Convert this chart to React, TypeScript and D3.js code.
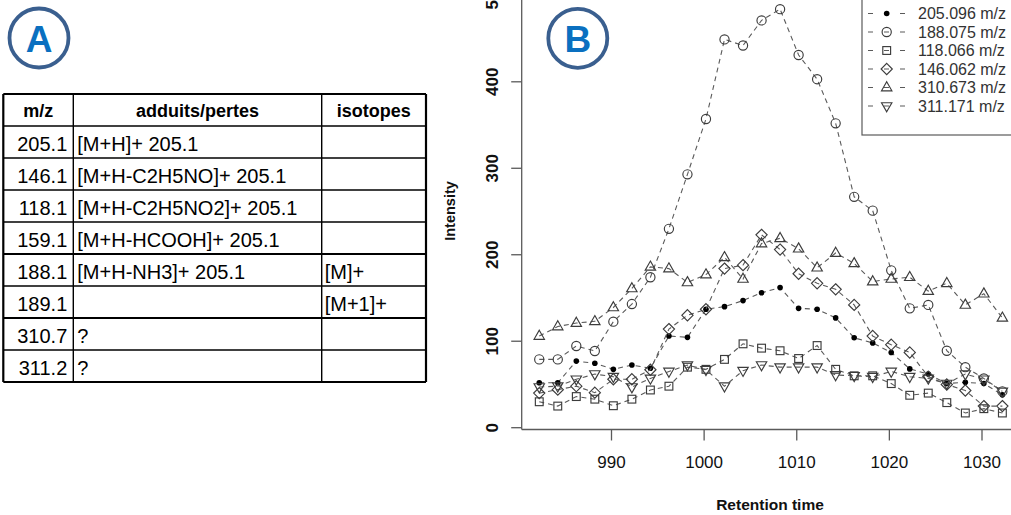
import React from "react";
import * as d3 from "d3";

// ---------- Data ----------
const times = [982.2, 984.2, 986.2, 988.2, 990.2, 992.2, 994.2, 996.2, 998.2, 1000.2, 1002.2, 1004.2, 1006.2, 1008.2, 1010.2, 1012.2, 1014.2, 1016.2, 1018.2, 1020.2, 1022.2, 1024.2, 1026.2, 1028.2, 1030.2, 1032.2];

const mz205 = [52, 52, 77, 74.5, 67.5, 72.5, 68.7, 106, 104.5, 137, 140, 147, 156, 162, 138, 137, 127, 104, 98, 87, 68, 62, 51, 52.5, 51, 38];
const mz188 = [79, 79, 94.5, 88.7, 122.6, 143, 174, 230, 293, 357, 449, 442, 471, 484, 431, 403, 352, 267, 251, 182, 138, 142, 89, 70, 57, 42];
const mz118 = [30, 25, 36, 33, 25.4, 33, 43.6, 48, 70, 67.5, 79, 97, 92, 89, 80, 95, 67.5, 60, 60, 51, 37.5, 40, 29, 17, 22, 17];
const mz146 = [40, 44, 48, 40.5, 56, 56, 67, 114, 130, 137, 184, 188, 223, 206, 178, 167, 160, 142, 106, 96, 87, 59, 50, 43, 25, 25];
const mz310 = [106, 117, 121, 123, 139, 161, 186, 184, 168, 177, 197, 172, 213, 219, 207, 185, 202, 190, 169, 172, 174, 158, 167, 142, 155, 127];
const mz311 = [47, 48, 56, 62, 59, 47, 57, 65, 72.5, 67, 48, 66, 72.5, 70, 70, 70, 61, 60, 59, 65, 59, 57, 51, 62, 56, 42];

const seriesNames = ["205.096 m/z", "188.075 m/z", "118.066 m/z", "146.062 m/z", "310.673 m/z", "311.171 m/z"];
const seriesShapes = ["dot", "circle", "square", "diamond", "triUp", "triDown"];
const seriesValues = [mz205, mz188, mz118, mz146, mz310, mz311];

const xTicks = [990, 1000, 1010, 1020, 1030];
const yTicks = [0, 100, 200, 300, 400, 500];

const tableHeader = ["m/z", "adduits/pertes", "isotopes"];
const tableMz = ["205.1", "146.1", "118.1", "159.1", "188.1", "189.1", "310.7", "311.2"];
const tableAdducts = ["[M+H]+ 205.1", "[M+H-C2H5NO]+ 205.1", "[M+H-C2H5NO2]+ 205.1", "[M+H-HCOOH]+ 205.1", "[M+H-NH3]+ 205.1", "", "?", "?"];
const tableIsotopes = ["", "", "", "", "[M]+", "[M+1]+", "", ""];

// ---------- Layout ----------
const W = 1011;
const H = 515;
const FONT = "'Liberation Sans', Arial, Helvetica, sans-serif";

const x = d3.scaleLinear().domain([990, 1030]).range([611.5, 982]);
const y = d3.scaleLinear().domain([0, 400]).range([427.7, 81.8]);

const axisX = 521.7;
const axisY = 429.5;
const LINE = "#5a5a5a";
const SYM = "#3c3c3c";

function Symbol({ shape, cx, cy }: { shape: string; cx: number; cy: number }) {
  const common = { fill: "none", stroke: SYM, strokeWidth: 1.15 };
  switch (shape) {
    case "dot":
      return <circle cx={cx} cy={cy} r={2.8} fill="#000" />;
    case "circle":
      return <circle cx={cx} cy={cy} r={4.6} {...common} />;
    case "square":
      return <rect x={cx - 3.9} y={cy - 3.9} width={7.8} height={7.8} {...common} />;
    case "diamond":
      return <path d={`M${cx},${cy - 5.6}L${cx + 5.6},${cy}L${cx},${cy + 5.6}L${cx - 5.6},${cy}Z`} {...common} />;
    case "triUp":
      return <path d={`M${cx},${cy - 5.8}L${cx + 5.2},${cy + 3.3}L${cx - 5.2},${cy + 3.3}Z`} {...common} />;
    case "triDown":
      return <path d={`M${cx},${cy + 5.8}L${cx + 5.2},${cy - 3.3}L${cx - 5.2},${cy - 3.3}Z`} {...common} />;
    default:
      return null;
  }
}

function Badge({ cx, cy, letter }: { cx: number; cy: number; letter: string }) {
  return (
    <g>
      <circle cx={cx} cy={cy} r={29.5} fill="#fff" stroke="#3a5f8f" strokeWidth={3.8} />
      <text x={cx} y={cy + 13.5} textAnchor="middle" fontFamily={FONT} fontWeight="bold" fontSize={37} fill="#0a70c0">
        {letter}
      </text>
    </g>
  );
}

export default function App() {
  const line = d3
    .line<number>()
    .x((_, i) => x(times[i]))
    .y((v) => y(v));

  // table geometry
  const colX = [3.3, 73.3, 321.7, 426];
  const rowTop = 94;
  const rowH = 32;
  const nRows = tableMz.length + 1;
  const rowYs = d3.range(nRows + 1).map((k) => rowTop + k * rowH);

  const legendY0 = 13.5;
  const legendStep = 18.5;

  return (
    <svg
      width={W}
      height={H}
      viewBox={`0 0 ${W} ${H}`}
      style={{ position: "absolute", left: 0, top: 0, background: "#fff" }}
    >
      <rect x={0} y={0} width={W} height={H} fill="#fff" />

      {/* ---------- Panel A: table ---------- */}
      <Badge cx={39} cy={38} letter="A" />
      <g>
        {rowYs.map((ry, k) => (
          <line
            key={"r" + k}
            x1={colX[0]}
            x2={colX[3]}
            y1={ry}
            y2={ry}
            stroke="#000"
            strokeWidth={k === 0 || k === nRows || k === 5 || k === 7 ? 2.2 : 1.4}
          />
        ))}
        {colX.map((cx, k) => (
          <line
            key={"c" + k}
            x1={cx}
            x2={cx}
            y1={rowTop}
            y2={rowTop + nRows * rowH}
            stroke="#000"
            strokeWidth={k === 0 || k === 3 ? 2.2 : 1.4}
          />
        ))}
        {tableHeader.map((h, k) => (
          <text
            key={"h" + k}
            x={(colX[k] + colX[k + 1]) / 2}
            y={rowTop + rowH / 2 + 1}
            dominantBaseline="central"
            textAnchor="middle"
            fontFamily={FONT}
            fontWeight="bold"
            fontSize={18}
            fill="#000"
          >
            {h}
          </text>
        ))}
        {tableMz.map((m, r) => {
          const cy = rowTop + (r + 1) * rowH + rowH / 2 + 1.5;
          return (
            <g key={"row" + r}>
              <text x={colX[1] - 6} y={cy} dominantBaseline="central" textAnchor="end" fontFamily={FONT} fontSize={20} fill="#000">
                {m}
              </text>
              <text x={colX[1] + 4} y={cy} dominantBaseline="central" fontFamily={FONT} fontSize={20} fill="#000">
                {tableAdducts[r]}
              </text>
              <text x={colX[2] + 3} y={cy} dominantBaseline="central" fontFamily={FONT} fontSize={20} fill="#000">
                {tableIsotopes[r]}
              </text>
            </g>
          );
        })}
      </g>

      {/* ---------- Panel B: chart ---------- */}
      {seriesValues.map((vals, s) => (
        <g key={"s" + s}>
          <path d={line(vals) || ""} fill="none" stroke={LINE} strokeWidth={1.1} strokeDasharray="5,4" />
          {vals.map((v, i) => (
            <Symbol key={i} shape={seriesShapes[s]} cx={x(times[i])} cy={y(v)} />
          ))}
        </g>
      ))}

      {/* axes */}
      <line x1={axisX} x2={axisX} y1={0} y2={axisY} stroke={LINE} strokeWidth={1.3} />
      <line x1={axisX} x2={W} y1={axisY} y2={axisY} stroke={LINE} strokeWidth={1.3} />
      {yTicks.map((t) => (
        <g key={"yt" + t}>
          <line x1={axisX - 10.5} x2={axisX} y1={y(t)} y2={y(t)} stroke={LINE} strokeWidth={1.3} />
          <text
            transform={`translate(${497.5},${y(t)}) rotate(-90)`}
            textAnchor="middle"
            fontFamily={FONT}
            fontWeight="bold"
            fontSize={17}
            fill="#111"
          >
            {t}
          </text>
        </g>
      ))}
      {xTicks.map((t) => (
        <g key={"xt" + t}>
          <line x1={x(t)} x2={x(t)} y1={axisY} y2={axisY + 11} stroke={LINE} strokeWidth={1.3} />
          <text x={x(t)} y={468} textAnchor="middle" fontFamily={FONT} fontSize={17} fill="#111">
            {t}
          </text>
        </g>
      ))}
      <text x={770} y={510} textAnchor="middle" fontFamily={FONT} fontWeight="bold" fontSize={15.5} fill="#111">
        Retention time
      </text>
      <text
        transform={`translate(${455},${211}) rotate(-90)`}
        textAnchor="middle"
        fontFamily={FONT}
        fontWeight="bold"
        fontSize={14.5}
        fill="#111"
      >
        Intensity
      </text>

      {/* legend */}
      <rect x={862} y={-5} width={170} height={140} fill="#fff" stroke={LINE} strokeWidth={1.2} />
      {seriesNames.map((name, k) => {
        const ly = legendY0 + k * legendStep;
        return (
          <g key={"lg" + k}>
            <line x1={868} x2={905} y1={ly} y2={ly} stroke={LINE} strokeWidth={1.1} strokeDasharray="5,11" />
            <Symbol shape={seriesShapes[k]} cx={886.7} cy={ly} />
            <text x={918} y={ly} dominantBaseline="central" fontFamily={FONT} fontSize={16} fill="#333">
              {name}
            </text>
          </g>
        );
      })}

      <Badge cx={577.8} cy={38.3} letter="B" />
    </svg>
  );
}
